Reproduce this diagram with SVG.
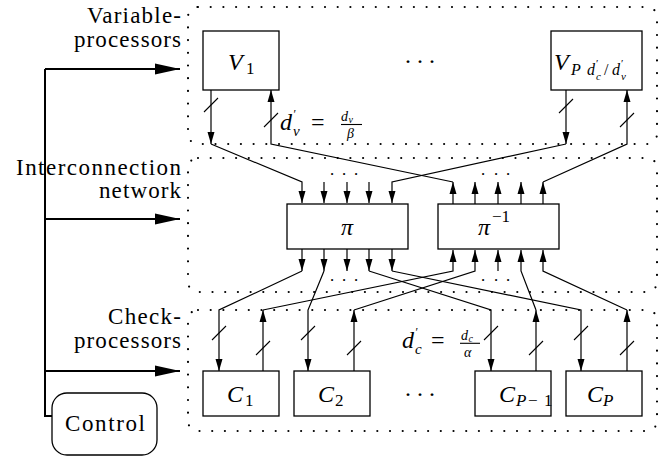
<svg xmlns="http://www.w3.org/2000/svg" width="670" height="456" viewBox="0 0 670 456" style="font-family:'Liberation Serif','Times New Roman',serif">
<defs>
<marker id="ah" viewBox="0 0 12 8" markerWidth="12" markerHeight="8" refX="12" refY="4" orient="auto" markerUnits="userSpaceOnUse"><path d="M0,0.5 L12,4 L0,7.5 z" fill="#000"/></marker>
<marker id="big" viewBox="0 0 25 12" markerWidth="25" markerHeight="12" refX="25" refY="6" orient="auto" markerUnits="userSpaceOnUse"><path d="M0,0.5 L25,6 L0,11.5 z" fill="#000"/></marker>
</defs>
<rect width="670" height="456" fill="#fff"/>

<g id="regions" fill="none" stroke="#000" stroke-width="2.2" stroke-linecap="round" stroke-dasharray="0 12.7">
<rect id="region-variable" x="188" y="7" width="469" height="137" rx="10"/>
<rect id="region-network" x="188" y="158" width="469" height="134" rx="10"/>
<rect id="region-check" x="188" y="310" width="469" height="121" rx="10"/>
</g>

<g id="labels" fill="#000">
<text style="font-family:'Liberation Serif',serif" font-family="Liberation Serif" font-size="23" x="181" y="23" text-anchor="end" textLength="94" lengthAdjust="spacing">Variable-</text>
<text style="font-family:'Liberation Serif',serif" font-family="Liberation Serif" font-size="23" x="181" y="47" text-anchor="end" textLength="107" lengthAdjust="spacing">processors</text>
<text style="font-family:'Liberation Serif',serif" font-family="Liberation Serif" font-size="23" x="181" y="175" text-anchor="end" textLength="165" lengthAdjust="spacing">Interconnection</text>
<text style="font-family:'Liberation Serif',serif" font-family="Liberation Serif" font-size="23" x="181" y="198" text-anchor="end" textLength="82" lengthAdjust="spacing">network</text>
<text style="font-family:'Liberation Serif',serif" font-family="Liberation Serif" font-size="23" x="181" y="324" text-anchor="end" textLength="73" lengthAdjust="spacing">Check-</text>
<text style="font-family:'Liberation Serif',serif" font-family="Liberation Serif" font-size="23" x="181" y="348" text-anchor="end" textLength="107" lengthAdjust="spacing">processors</text>
<text style="font-family:'Liberation Serif',serif" font-family="Liberation Serif" font-size="24" x="408 420 432" y="69" text-anchor="middle">···</text>
<text style="font-family:'Liberation Serif',serif" font-family="Liberation Serif" font-size="24" x="408 420 432" y="402" text-anchor="middle">···</text>
<text style="font-family:'Liberation Serif',serif" font-family="Liberation Serif" font-size="17" x="332 344 356" y="180" text-anchor="middle">···</text>
<text style="font-family:'Liberation Serif',serif" font-family="Liberation Serif" font-size="17" x="483 496 508" y="180" text-anchor="middle">···</text>
<text style="font-family:'Liberation Serif',serif" font-family="Liberation Serif" font-size="17" x="332 344 356" y="286" text-anchor="middle">···</text>
<text style="font-family:'Liberation Serif',serif" font-family="Liberation Serif" font-size="17" x="483 496 508" y="286" text-anchor="middle">···</text>
<g id="label-dv">
<text style="font-family:'Liberation Serif',serif" font-family="Liberation Serif" font-size="24" x="280" y="130"><tspan font-style="italic">d</tspan><tspan font-size="12" x="293.5" y="118">′</tspan><tspan font-style="italic" font-size="15" x="293" y="136">v</tspan><tspan x="311" y="130">=</tspan></text>
<text style="font-family:'Liberation Serif',serif" font-family="Liberation Serif" font-size="14" x="341" y="120.5"><tspan font-style="italic">d</tspan><tspan font-style="italic" font-size="10" x="348.5" y="123">v</tspan></text>
<line stroke="#000" stroke-width="1.1" x1="341" y1="124.5" x2="362" y2="124.5"/>
<text style="font-family:'Liberation Serif',serif" font-family="Liberation Serif" font-size="14" font-style="italic" x="347" y="138">β</text>
</g>
<g id="label-dc">
<text style="font-family:'Liberation Serif',serif" font-family="Liberation Serif" font-size="24" x="402" y="348"><tspan font-style="italic">d</tspan><tspan font-size="12" x="415.5" y="336">′</tspan><tspan font-style="italic" font-size="15" x="415" y="354">c</tspan><tspan x="431" y="348">=</tspan></text>
<text style="font-family:'Liberation Serif',serif" font-family="Liberation Serif" font-size="14" x="461" y="339.5"><tspan font-style="italic">d</tspan><tspan font-style="italic" font-size="10" x="468.5" y="342">c</tspan></text>
<line stroke="#000" stroke-width="1.1" x1="460" y1="343.3" x2="480" y2="343.3"/>
<text style="font-family:'Liberation Serif',serif" font-family="Liberation Serif" font-size="14" font-style="italic" x="464" y="357">α</text>
</g>
</g>

<g id="connectors" fill="none" stroke="#000" stroke-width="1.2" marker-end="url(#ah)">
<line x1="211" y1="90" x2="211" y2="144"/>
<polyline points="211,144 302,182 302,203"/>
<line x1="566" y1="90" x2="566" y2="144"/>
<polyline points="566,144 392,182 392,203"/>
<line x1="453" y1="204" x2="453" y2="182"/>
<polyline points="453,182 271,144 271,90"/>
<line x1="543" y1="204" x2="543" y2="182"/>
<polyline points="543,182 627,144 627,90"/>
<line x1="324" y1="182" x2="324" y2="203"/>
<line x1="347" y1="182" x2="347" y2="203"/>
<line x1="369" y1="182" x2="369" y2="203"/>
<line x1="475" y1="204" x2="475" y2="182"/>
<line x1="498" y1="204" x2="498" y2="182"/>
<line x1="521" y1="204" x2="521" y2="182"/>

<line x1="302" y1="249" x2="302" y2="271"/>
<polyline points="302,271 219,310 219,371"/>
<line x1="324" y1="249" x2="324" y2="271"/>
<polyline points="324,271 308,310 308,371"/>
<line x1="347" y1="249" x2="347" y2="271"/>
<line x1="369" y1="249" x2="369" y2="271"/>
<polyline points="369,271 491,310 491,371"/>
<line x1="392" y1="249" x2="392" y2="271"/>
<polyline points="392,271 581,310 581,371"/>

<line x1="263" y1="371" x2="263" y2="310"/>
<polyline points="263,310 453,271 453,250"/>
<line x1="354" y1="371" x2="354" y2="310"/>
<polyline points="354,310 475,271 475,250"/>
<line x1="498" y1="271" x2="498" y2="250"/>
<line x1="536" y1="371" x2="536" y2="310"/>
<polyline points="536,310 521,271 521,250"/>
<line x1="627" y1="371" x2="627" y2="310"/>
<polyline points="627,310 543,271 543,250"/>

<g id="ticks" marker-end="none" stroke-width="1.1">
<line x1="204" y1="112" x2="218" y2="98"/>
<line x1="264" y1="127" x2="278" y2="113"/>
<line x1="559" y1="113" x2="573" y2="99"/>
<line x1="620" y1="127" x2="634" y2="113"/>
<line x1="212" y1="340" x2="226" y2="326"/>
<line x1="256" y1="355" x2="270" y2="341"/>
<line x1="301" y1="340" x2="315" y2="326"/>
<line x1="347" y1="355" x2="361" y2="341"/>
<line x1="484" y1="340" x2="498" y2="326"/>
<line x1="529" y1="355" x2="543" y2="341"/>
<line x1="574" y1="340" x2="588" y2="326"/>
<line x1="620" y1="355" x2="634" y2="341"/>
</g>

<g id="control-lines" stroke-width="2" marker-end="url(#big)">
<polyline points="52,416 45,416 45,69" marker-end="none"/>
<line x1="45" y1="69" x2="180" y2="69"/>
<line x1="45" y1="219" x2="180" y2="219"/>
<line x1="45" y1="371" x2="180" y2="371"/>
</g>
</g>

<g id="node-V1">
<rect fill="#fff" stroke="#000" stroke-width="1.3" x="203" y="31" width="76" height="59"/>
<text style="font-family:'Liberation Serif',serif" font-family="Liberation Serif" font-size="24" x="228" y="70"><tspan font-style="italic">V</tspan><tspan font-size="17" x="246" y="74">1</tspan></text>
</g>
<g id="node-VP">
<rect fill="#fff" stroke="#000" stroke-width="1.3" x="551" y="31" width="91" height="59"/>
<text style="font-family:'Liberation Serif',serif" font-family="Liberation Serif" font-size="24" x="554" y="70"><tspan font-style="italic">V</tspan><tspan font-style="italic" font-size="16" x="571" y="75">P</tspan><tspan font-style="italic" font-size="16" x="587" y="75">d</tspan><tspan font-size="11" x="596" y="67">′</tspan><tspan font-style="italic" font-size="11" x="596" y="80">c</tspan><tspan font-size="16" x="604" y="75">/</tspan><tspan font-style="italic" font-size="16" x="612" y="75">d</tspan><tspan font-size="11" x="621" y="67">′</tspan><tspan font-style="italic" font-size="11" x="621" y="80">v</tspan></text>
</g>
<g id="node-pi">
<rect fill="#fff" stroke="#000" stroke-width="1.3" x="287" y="204" width="121" height="45"/>
<text style="font-family:'Liberation Serif',serif" font-family="Liberation Serif" font-size="24" font-style="italic" x="347" y="235" text-anchor="middle">π</text>
</g>
<g id="node-piinv">
<rect fill="#fff" stroke="#000" stroke-width="1.3" x="438" y="204" width="121" height="45"/>
<text style="font-family:'Liberation Serif',serif" font-family="Liberation Serif" font-size="24" x="478" y="235"><tspan font-style="italic">π</tspan><tspan font-size="17" x="492" y="222">−1</tspan></text>
</g>
<g id="node-C1">
<rect fill="#fff" stroke="#000" stroke-width="1.3" x="203" y="371" width="76" height="45"/>
<text style="font-family:'Liberation Serif',serif" font-family="Liberation Serif" font-size="24" x="227" y="402"><tspan font-style="italic">C</tspan><tspan font-size="17" x="245" y="406">1</tspan></text>
</g>
<g id="node-C2">
<rect fill="#fff" stroke="#000" stroke-width="1.3" x="294" y="371" width="76" height="45"/>
<text style="font-family:'Liberation Serif',serif" font-family="Liberation Serif" font-size="24" x="318" y="402"><tspan font-style="italic">C</tspan><tspan font-size="17" x="335" y="406">2</tspan></text>
</g>
<g id="node-CP1">
<rect fill="#fff" stroke="#000" stroke-width="1.3" x="475" y="371" width="76" height="45"/>
<text style="font-family:'Liberation Serif',serif" font-family="Liberation Serif" font-size="24" x="499" y="402"><tspan font-style="italic">C</tspan><tspan font-style="italic" font-size="17" x="516" y="406">P</tspan><tspan font-size="17" x="528" y="406">−</tspan><tspan font-size="17" x="544" y="406">1</tspan></text>
</g>
<g id="node-CP">
<rect fill="#fff" stroke="#000" stroke-width="1.3" x="566" y="371" width="76" height="45"/>
<text style="font-family:'Liberation Serif',serif" font-family="Liberation Serif" font-size="24" x="587" y="402"><tspan font-style="italic">C</tspan><tspan font-style="italic" font-size="17" x="603" y="406">P</tspan></text>
</g>
<g id="node-control">
<rect fill="#fff" stroke="#000" stroke-width="1.3" x="52" y="393" width="105" height="62" rx="15"/>
<text style="font-family:'Liberation Serif',serif" font-family="Liberation Serif" font-size="23" x="105" y="431" text-anchor="middle" textLength="80" lengthAdjust="spacing">Control</text>
</g>
</svg>
